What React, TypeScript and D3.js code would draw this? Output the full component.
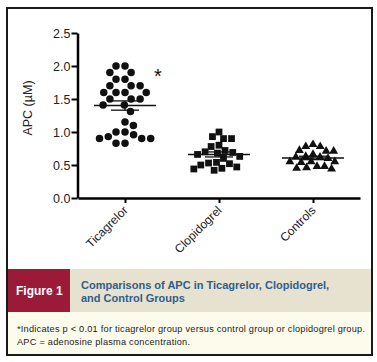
import React, {useEffect, useRef} from 'react';
import * as d3 from 'd3';

// groups and their values (µM)
const categories = ['Ticagrelor', 'Clopidogrel', 'Controls'];
const ticagrelorValues = [2.0, 2.0, 1.9, 1.9, 1.8, 1.8, 1.7, 1.7, 1.7, 1.6, 1.6, 1.6, 1.6, 1.5, 1.5, 1.5,
  1.41, 1.41, 1.31, 1.15, 1.1, 1.0, 1.0, 0.96, 0.93, 0.9, 0.9, 0.9, 0.83, 0.83];
const clopidogrelValues = [1.0, 0.93, 0.9, 0.9, 0.8, 0.78, 0.72, 0.7, 0.69, 0.68, 0.66, 0.63, 0.6,
  0.54, 0.53, 0.52, 0.5, 0.47, 0.45, 0.44, 0.42];
const controlValues = [0.81, 0.78, 0.78, 0.72, 0.71, 0.71, 0.66, 0.63, 0.62, 0.62, 0.6, 0.55, 0.55,
  0.55, 0.54, 0.48, 0.48, 0.46, 0.45, 0.44];
const yTicks = [0, 0.5, 1.0, 1.5, 2.0, 2.5];
const yLabel = 'APC (µM)';
const figureLabel = 'Figure 1';
const titleLines = ['Comparisons of APC in Ticagrelor, Clopidogrel,', 'and Control Groups'];
const footnoteLines = [
  '*Indicates p < 0.01 for ticagrelor group versus control group or clopidogrel group.',
  'APC = adenosine plasma concentration.'
];

// simple beeswarm: put each point as close to the centre as it can go without overlapping
const swarm = (vals, y, d) => {
  const pts = vals.map(v => ({v, y: y(v), x: 0})).sort((a, b) => a.y - b.y);
  const placed = [];
  pts.forEach((p, i) => {
    const near = placed.filter(q => Math.abs(q.y - p.y) < d);
    const cands = [0];
    near.forEach(q => {
      const dx = Math.sqrt(d * d - (q.y - p.y) ** 2);
      cands.push(q.x - dx, q.x + dx);
    });
    // alternate which side wins a tie so the swarm stays balanced
    const side = i % 2 ? 1 : -1;
    cands.sort((a, b) => Math.abs(a) - Math.abs(b) || side * (a - b));
    p.x = cands.find(c => near.every(q => (q.x - c) ** 2 + (q.y - p.y) ** 2 >= d * d - 0.01));
    placed.push(p);
  });
  return pts;
};

export default function App() {
  const ref = useRef(null);

  useEffect(() => {
    document.body.style.margin = '0';
    const width = 377, height = 362;
    const svg = d3.select(ref.current);
    svg.selectAll('*').remove();
    svg.attr('width', width).attr('height', height)
      .style('font-family', '"Liberation Sans", Arial, sans-serif');

    // frame + caption boxes
    svg.append('rect').attr('x', 7).attr('y', 269).attr('width', 365).attr('height', 43).attr('fill', '#e7e1cf');
    svg.append('rect').attr('x', 7).attr('y', 269).attr('width', 63).attr('height', 43).attr('fill', '#9b1a38');
    svg.append('rect').attr('x', 7).attr('y', 312).attr('width', 365).attr('height', 43).attr('fill', '#fdfbec');
    svg.append('rect').attr('x', 7).attr('y', 8).attr('width', 365).attr('height', 347)
      .attr('fill', 'none').attr('stroke', '#1a1a1a').attr('stroke-width', 2);

    const x = d3.scalePoint().domain(categories).range([78, 360]).padding(0.5);
    const y = d3.scaleLinear().domain([0, 2.5]).range([198, 33]);

    const yAxis = g => g
      .attr('transform', 'translate(77.5,0)')
      .call(d3.axisLeft(y).tickValues(yTicks).tickFormat(d3.format('.1f')).tickSize(6).tickSizeOuter(0).tickPadding(1))
      .call(g => g.select('.domain').attr('stroke-width', 2.5))
      .call(g => g.selectAll('.tick line').attr('stroke-width', 2))
      .call(g => g.selectAll('.tick text').attr('font-size', 12.5).attr('fill', '#222').attr('font-family', null));

    const xAxis = g => g
      .attr('transform', 'translate(0,198)')
      .call(d3.axisBottom(x).tickSize(5).tickSizeOuter(0))
      .call(g => g.select('.domain').attr('stroke-width', 2.5))
      .call(g => g.selectAll('.tick line').attr('stroke-width', 2))
      .call(g => g.selectAll('.tick text')
        .attr('font-size', 12).attr('fill', '#222').attr('font-family', null)
        .attr('text-anchor', 'end').attr('dy', null).attr('y', 0)
        .attr('transform', 'translate(3,13) rotate(-45)'));

    svg.append('g').call(xAxis);
    svg.append('g').call(yAxis);

    svg.append('text')
      .attr('transform', 'translate(32,108) rotate(-90)')
      .attr('text-anchor', 'middle').attr('font-size', 12.5).attr('fill', '#222')
      .text(yLabel);

    const groups = [
      {name: categories[0], values: ticagrelorValues, symbol: d3.symbolCircle, size: 44, d: 9},
      {name: categories[1], values: clopidogrelValues, symbol: d3.symbolSquare, size: 46, d: 8},
      {name: categories[2], values: controlValues, symbol: d3.symbolTriangle, size: 34, d: 7.5}
    ];

    groups.forEach(gr => {
      const cx = x(gr.name);
      const pts = swarm(gr.values, y, gr.d);
      const g = svg.append('g');
      g.selectAll('path.pt').data(pts).enter().append('path')
        .attr('class', 'pt')
        .attr('d', d3.symbol().type(gr.symbol).size(gr.size))
        .attr('transform', d => `translate(${cx + d.x},${d.y})`)
        .attr('fill', '#111');

      const m = d3.mean(gr.values);
      const sem = d3.deviation(gr.values) / Math.sqrt(gr.values.length);
      g.append('line').attr('x1', cx - 31).attr('x2', cx + 31).attr('y1', y(m)).attr('y2', y(m))
        .attr('stroke', '#111').attr('stroke-width', 1.6);
      [m - sem, m + sem].forEach(v => {
        g.append('line').attr('x1', cx - 14).attr('x2', cx + 14).attr('y1', y(v)).attr('y2', y(v))
          .attr('stroke', '#111').attr('stroke-width', 1.3);
      });
      g.append('line').attr('x1', cx).attr('x2', cx).attr('y1', y(m - sem)).attr('y2', y(m + sem))
        .attr('stroke', '#111').attr('stroke-width', 1.3);
    });

    svg.append('text').attr('x', 154).attr('y', 83).attr('font-size', 20).attr('fill', '#111').text('*');

    // caption
    svg.append('text').attr('x', 16).attr('y', 294.5).attr('font-size', 12).attr('font-weight', 'bold')
      .attr('fill', '#fff').text(figureLabel);
    svg.append('g').selectAll('text').data(titleLines).enter().append('text')
      .attr('x', 81).attr('y', (d, i) => 289 + i * 12.5)
      .attr('font-size', 11).attr('font-weight', 'bold').attr('fill', '#2d5f8e')
      .text(d => d);
    svg.append('g').selectAll('text').data(footnoteLines).enter().append('text')
      .attr('x', 17).attr('y', (d, i) => 332 + i * 13)
      .attr('font-size', 9.2).attr('fill', '#222')
      .attr('textLength', (d, i) => (i === 0 ? 348 : 173)).attr('lengthAdjust', 'spacing')
      .text(d => d);
  }, []);

  return <svg ref={ref} />;
}
